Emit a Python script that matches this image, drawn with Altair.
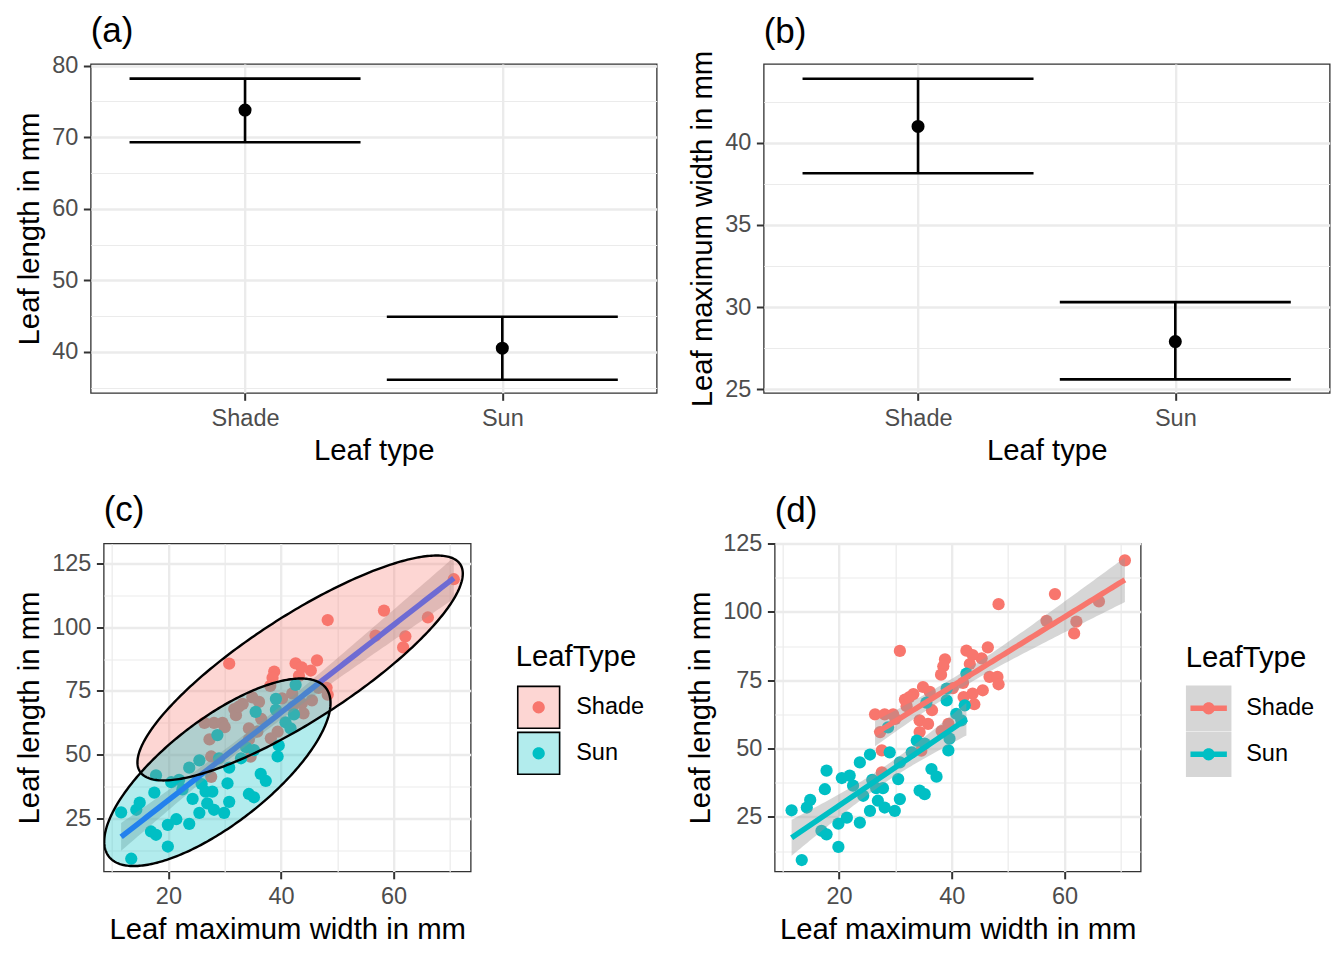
import numpy as np
import pandas as pd
import altair as alt

FONT = "Liberation Sans"

leaf_types = ["Shade", "Sun"]
type_colors = ["#F8766D", "#00BFC4"]

# (a) leaf length: mean and 95% CI
length_mean = [73.8, 40.5]
length_lower = [69.3, 36.1]
length_upper = [78.2, 44.9]

# (b) leaf maximum width: mean and 95% CI
width_mean = [41.0, 27.9]
width_lower = [38.15, 25.6]
width_upper = [43.9, 30.3]

shade_width = [70.7, 58.3, 48.3, 66.1, 56.8, 62.1, 61.7, 30.8, 46.4, 42.6, 45.3, 43.2, 38.8, 38.5, 38.1,
               43.7, 34.9, 33.2, 31.7, 36.1, 46.7, 48.1, 48.3, 45.5, 43.7, 42.1, 44.0, 26.4, 28.1, 29.6,
               27.3, 34.3, 35.8, 34.3, 27.6, 39.4, 27.6, 32.0, 32.5, 38.2, 40.2, 42.0, 34.6, 36.5, 30.0]
shade_length = [118.8, 106.5, 102.8, 103.8, 96.7, 96.4, 92.1, 85.7, 87.0, 85.8, 83.0, 80.9, 82.6, 80.1, 77.0,
                84.2, 72.5, 69.9, 67.9, 70.7, 76.2, 76.2, 73.5, 71.3, 70.1, 68.8, 66.2, 62.5, 62.5, 62.5,
                56.0, 60.3, 59.0, 56.0, 49.3, 59.0, 41.3, 65.5, 68.8, 56.4, 72.1, 74.0, 49.2, 64.0, 60.8]
sun_width = [11.6, 13.4, 14.3, 14.9, 17.5, 17.8, 16.9, 17.8, 19.9, 19.9, 21.4, 20.5, 21.9, 22.5, 23.7, 25.5,
             23.7, 24.3, 25.5, 25.9, 26.9, 26.6, 27.8, 28.1, 29.9, 30.8, 30.5, 29.0, 30.8, 32.9, 34.3, 35.2,
             36.4, 37.3, 39.4, 33.8, 40.8, 39.1, 42.6, 42.3, 39.1, 28.7, 35.2, 35.5, 39.6, 41.7]
sun_length = [27.4, 9.2, 28.4, 31.2, 35.1, 41.9, 19.9, 18.6, 14.0, 22.5, 24.7, 39.2, 40.1, 36.4, 44.9, 47.8,
              22.9, 32.7, 27.2, 38.5, 30.9, 35.5, 35.5, 28.4, 27.2, 31.5, 38.8, 48.6, 44.9, 48.6, 34.6, 33.3,
              42.5, 39.7, 49.3, 52.9, 62.7, 67.6, 77.4, 65.8, 71.9, 57.7, 51.8, 66.8, 53.6, 60.3]

# 95% ellipses of panel (c) (data units):
# centre, half x-extent, vertical half-chord at the centre, slope of the chord midpoints
ellipse_cx = [43.4, 28.7]
ellipse_cy = [84.0, 43.1]
ellipse_hx = [28.9, 20.1]
ellipse_h0 = [24.0, 24.8]
ellipse_slope = [1.28, 1.35]

# axis tick values (majors labelled, minors only gridded)
len_ticks = [35, 40, 45, 50, 55, 60, 65, 70, 75, 80]
wid_ticks = [25, 27.5, 30, 32.5, 35, 37.5, 40, 42.5]
sc_y_ticks = [12.5, 25, 37.5, 50, 62.5, 75, 87.5, 100, 112.5, 125]
sc_x_ticks = [10, 20, 30, 40, 50, 60, 70]


# ---------- statistics (as ggplot's geom_smooth(method = "lm")) ----------
def t975(df):
    z = 1.959964
    g1 = (z ** 3 + z) / 4
    g2 = (5 * z ** 5 + 16 * z ** 3 + 3 * z) / 96
    g3 = (3 * z ** 7 + 19 * z ** 5 + 17 * z ** 3 - 15 * z) / 384
    return z + g1 / df + g2 / df ** 2 + g3 / df ** 3


def lm_band(x, y, n=80):
    x = np.asarray(x, float)
    y = np.asarray(y, float)
    nn = len(x)
    xb = x.mean()
    sxx = ((x - xb) ** 2).sum()
    b = ((x - xb) * (y - y.mean())).sum() / sxx
    a = y.mean() - b * xb
    s = np.sqrt(((y - a - b * x) ** 2).sum() / (nn - 2))
    xg = np.linspace(x.min(), x.max(), n)
    fit = a + b * xg
    se = s * np.sqrt(1 / nn + (xg - xb) ** 2 / sxx)
    t = t975(nn - 2)
    return xg, fit, fit - t * se, fit + t * se


def ellipse_slices(cx, cy, hx, h0, k, m=160):
    s = np.cos(np.linspace(np.pi, 0, m))
    dx = hx * s
    half = h0 * np.sqrt(np.clip(1 - s ** 2, 0, None))
    mid = cy + k * dx
    return cx + dx, mid - half, mid + half


# ---------- tables ----------
pts = pd.DataFrame({
    "width": shade_width + sun_width,
    "length": shade_length + sun_length,
    "LeafType": ["Shade"] * len(shade_width) + ["Sun"] * len(sun_width),
})

xg, fit, lo, hi = lm_band(pts["width"], pts["length"])
band_all = pd.DataFrame({"x": xg, "fit": fit, "lower": lo, "upper": hi})

grp_rows, ell_rows = [], []
for i, (t, w, l) in enumerate(zip(leaf_types, [shade_width, sun_width], [shade_length, sun_length])):
    gx, gf, gl, gh = lm_band(w, l)
    grp_rows.append(pd.DataFrame({"x": gx, "fit": gf, "lower": gl, "upper": gh, "LeafType": t}))
    ex, elo, ehi = ellipse_slices(ellipse_cx[i], ellipse_cy[i], ellipse_hx[i], ellipse_h0[i], ellipse_slope[i])
    ell_rows.append(pd.DataFrame({"ex": ex, "elo": elo, "ehi": ehi, "LeafType": t, "Outline": t}))
band_grp = pd.concat(grp_rows, ignore_index=True)
rib_grp = band_grp[["x", "lower", "upper", "LeafType"]].copy()
line_grp = band_grp[["x", "fit", "LeafType"]].copy()
ell = pd.concat(ell_rows, ignore_index=True)

# ---------- styling helpers ----------
MAJOR_GRID = 2.4
MINOR_GRID = 1.2


def minor_test(step):
    return f"abs(datum.value / {step} - round(datum.value / {step})) > 0.001"


def q_axis(title, values, step, pad=5.5):
    t = minor_test(step)
    return alt.Axis(
        title=title, values=values,
        labelExpr=f"({t}) ? '' : datum.label",
        gridWidth={"condition": {"test": t, "value": MINOR_GRID}, "value": MAJOR_GRID},
        tickOpacity={"condition": {"test": t, "value": 0}, "value": 1},
        labelFlush=False, labelOverlap=False, labelPadding=pad,
    )


def tag(text, offset):
    return alt.TitleParams(text=text, anchor="start", frame="group", fontSize=35, font=FONT,
                           fontWeight="normal", color="black", offset=offset, baseline="alphabetic")


def summary_panel(label, ytitle, means, lows, highs, ydom, yvals, step, offset):
    df = pd.DataFrame({"LeafType": leaf_types, "mean": means, "lower": lows, "upper": highs})
    xs = alt.Scale(type="point", padding=0.6, domain=leaf_types)
    xax = alt.Axis(title="Leaf type", labelAngle=0, grid=True, gridWidth=MAJOR_GRID, labelPadding=6)
    ys = alt.Scale(domain=ydom, nice=False, zero=False)
    yax = q_axis(ytitle, yvals, step)

    def X():
        return alt.X("LeafType:N", scale=xs, axis=xax)

    def Y(f):
        return alt.Y(f"{f}:Q", scale=ys, axis=yax)

    base = alt.Chart(df)
    stem = base.mark_rule(color="black", strokeWidth=2.6).encode(x=X(), y=Y("lower"), y2="upper:Q")
    wtop = base.mark_tick(orient="horizontal", size=231, thickness=2.6, color="black", opacity=1).encode(
        x=X(), y=Y("upper"))
    wbot = base.mark_tick(orient="horizontal", size=231, thickness=2.6, color="black", opacity=1).encode(
        x=X(), y=Y("lower"))
    dot = base.mark_circle(size=170, color="black", opacity=1).encode(x=X(), y=Y("mean"))
    return alt.layer(stem, wtop, wbot, dot).properties(width=566, height=329, title=tag(label, offset))


# legend key glyphs (all filled, no strokes); the zero-length corner segments give
# every overlaid key layer the same bounding box, so their rows line up exactly
ANCHOR = "M-1,-1L-1,-1M1,1L1,1"
SQ_FULL = "M-1,-1H1V1H-1Z"
SQ_KEY = ANCHOR + "M-0.95,-0.95H0.95V0.95H-0.95Z"
SQ_RING = ANCHOR + "M-0.955,-0.955H0.955V0.955H-0.955ZM-0.885,-0.885V0.885H0.885V-0.885Z"
DOT = ANCHOR + "M-0.27,0A0.27,0.27,0,1,1,0.27,0A0.27,0.27,0,1,1,-0.27,0Z"
DOT_LINE = ANCHOR + "M-0.8,-0.121H0.8V0.121H-0.8ZM-0.27,0A0.27,0.27,0,1,1,0.27,0A0.27,0.27,0,1,1,-0.27,0Z"


def leg(symbol, lx, ly, z, show_text, pad=0, **kw):
    d = dict(orient="none", legendX=lx - pad, legendY=ly - pad, direction="vertical",
             titleFont=FONT, titleFontSize=29.3, titleFontWeight="normal", titleColor="black",
             titlePadding=12, labelFont=FONT, labelFontSize=23.5, labelColor="black", labelOffset=14.5,
             symbolType=symbol, symbolSize=2070, symbolStrokeWidth=0, rowPadding=0, padding=pad, zindex=z)
    if show_text:
        d["title"] = "LeafType"
    else:
        # overlay layer of the same key: same layout, no visible text
        d["title"] = " "
        d["labelExpr"] = "' '"
    d.update(kw)
    return alt.Legend(**d)


def scatter_xy(xdom, ydom):
    xs = alt.Scale(domain=xdom, nice=False, zero=False)
    ys = alt.Scale(domain=ydom, nice=False, zero=False)
    xax = q_axis("Leaf maximum width in mm", sc_x_ticks, 20, pad=6)
    yax = q_axis("Leaf length in mm", sc_y_ticks, 25)

    def X(f):
        return alt.X(f"{f}:Q", scale=xs, axis=xax)

    def Y(f):
        return alt.Y(f"{f}:Q", scale=ys, axis=yax)
    return X, Y


# ---------- panel (a) and (b) ----------
pa = summary_panel("(a)", "Leaf length in mm", length_mean, length_lower, length_upper,
                   [34.24, 80.24], len_ticks, 10, -23.6)
pb = summary_panel("(b)", "Leaf maximum width in mm", width_mean, width_lower, width_upper,
                   [24.77, 44.8], wid_ticks, 5, -27.6)

# ---------- panel (c) ----------
LX, LY = 412, 99.5
Xc, Yc = scatter_xy([8.5, 73.7], [4.2, 132.8])
c_pts = alt.Chart(pts).mark_circle(size=150, opacity=1).encode(
    x=Xc("width"), y=Yc("length"),
    color=alt.Color("LeafType:N", scale=alt.Scale(range=type_colors),
                    legend=leg(DOT, LX, LY, 3, False, symbolOpacity=1)))
c_rib = alt.Chart(band_all).mark_area(color="#999999", opacity=0.4).encode(
    x=Xc("x"), y=Yc("lower"), y2="upper:Q")
c_line = alt.Chart(band_all).mark_line(color="#3366FF", strokeWidth=5.5).encode(x=Xc("x"), y=Yc("fit"))
c_efill = alt.Chart(ell).mark_area(opacity=0.3, clip=True).encode(
    x=Xc("ex"), y=Yc("elo"), y2="ehi:Q",
    fill=alt.Fill("LeafType:N", scale=alt.Scale(range=type_colors),
                  legend=leg(SQ_KEY, LX, LY, 1, True, symbolOpacity=0.3)))
c_eline = alt.Chart(ell).mark_area(fill="black", fillOpacity=0, strokeWidth=2.4, clip=True).encode(
    x=Xc("ex"), y=Yc("elo"), y2="ehi:Q",
    stroke=alt.Stroke("Outline:N", scale=alt.Scale(range=["#000000", "#000000"]),
                      legend=leg(SQ_RING, LX, LY, 2, False, symbolOpacity=1)))
pc = alt.layer(c_pts, c_rib, c_line, c_efill, c_eline).properties(width=367, height=328, title=tag("(c)", -12.2))

# ---------- panel (d) ----------
DX, DY, DP = 411, 100.5, 2
Xd, Yd = scatter_xy([8.6, 73.5], [5.0, 125.0])
d_pts = alt.Chart(pts).mark_circle(size=150, opacity=1).encode(
    x=Xd("width"), y=Yd("length"),
    color=alt.Color("LeafType:N", scale=alt.Scale(range=type_colors),
                    legend=leg(DOT_LINE, DX, DY, 3, False, DP, symbolOpacity=1)))
d_rib = alt.Chart(rib_grp).mark_area(opacity=0.4).encode(
    x=Xd("x"), y=Yd("lower"), y2="upper:Q",
    fill=alt.Fill("LeafType:N", scale=alt.Scale(range=["#999999", "#999999"]),
                  legend=leg(SQ_FULL, DX, DY, 1, True, DP, symbolOpacity=0.4)))
d_line = alt.Chart(line_grp).mark_line(strokeWidth=5.5).encode(
    x=Xd("x"), y=Yd("fit"),
    stroke=alt.Stroke("LeafType:N", scale=alt.Scale(range=type_colors), legend=None))
pd_ = alt.layer(d_pts, d_rib, d_line).properties(width=366, height=328, title=tag("(d)", -25))

top = alt.hconcat(pa, pb, spacing=30)
bottom = alt.hconcat(pc, pd_, spacing=40).resolve_scale(
    color="independent", fill="independent", stroke="independent").resolve_legend(
    color="independent", fill="independent", stroke="independent")

chart = alt.vconcat(top, bottom, spacing=24.5, center=True).properties(
    padding={"left": 6.5, "top": 5, "right": 0, "bottom": 0}
).configure_axis(
    labelFont=FONT, labelFontSize=23.5, labelColor="#4D4D4D",
    titleFont=FONT, titleFontSize=29.3, titleFontWeight="normal", titleColor="black",
    tickColor="#333333", tickSize=7.3, tickWidth=2, domain=False,
    gridColor="#EBEBEB", titlePadding=7,
).configure_view(stroke="#333333", strokeWidth=1.3)

chart.save("out.html", embed_options={"renderer": "svg", "actions": False})
